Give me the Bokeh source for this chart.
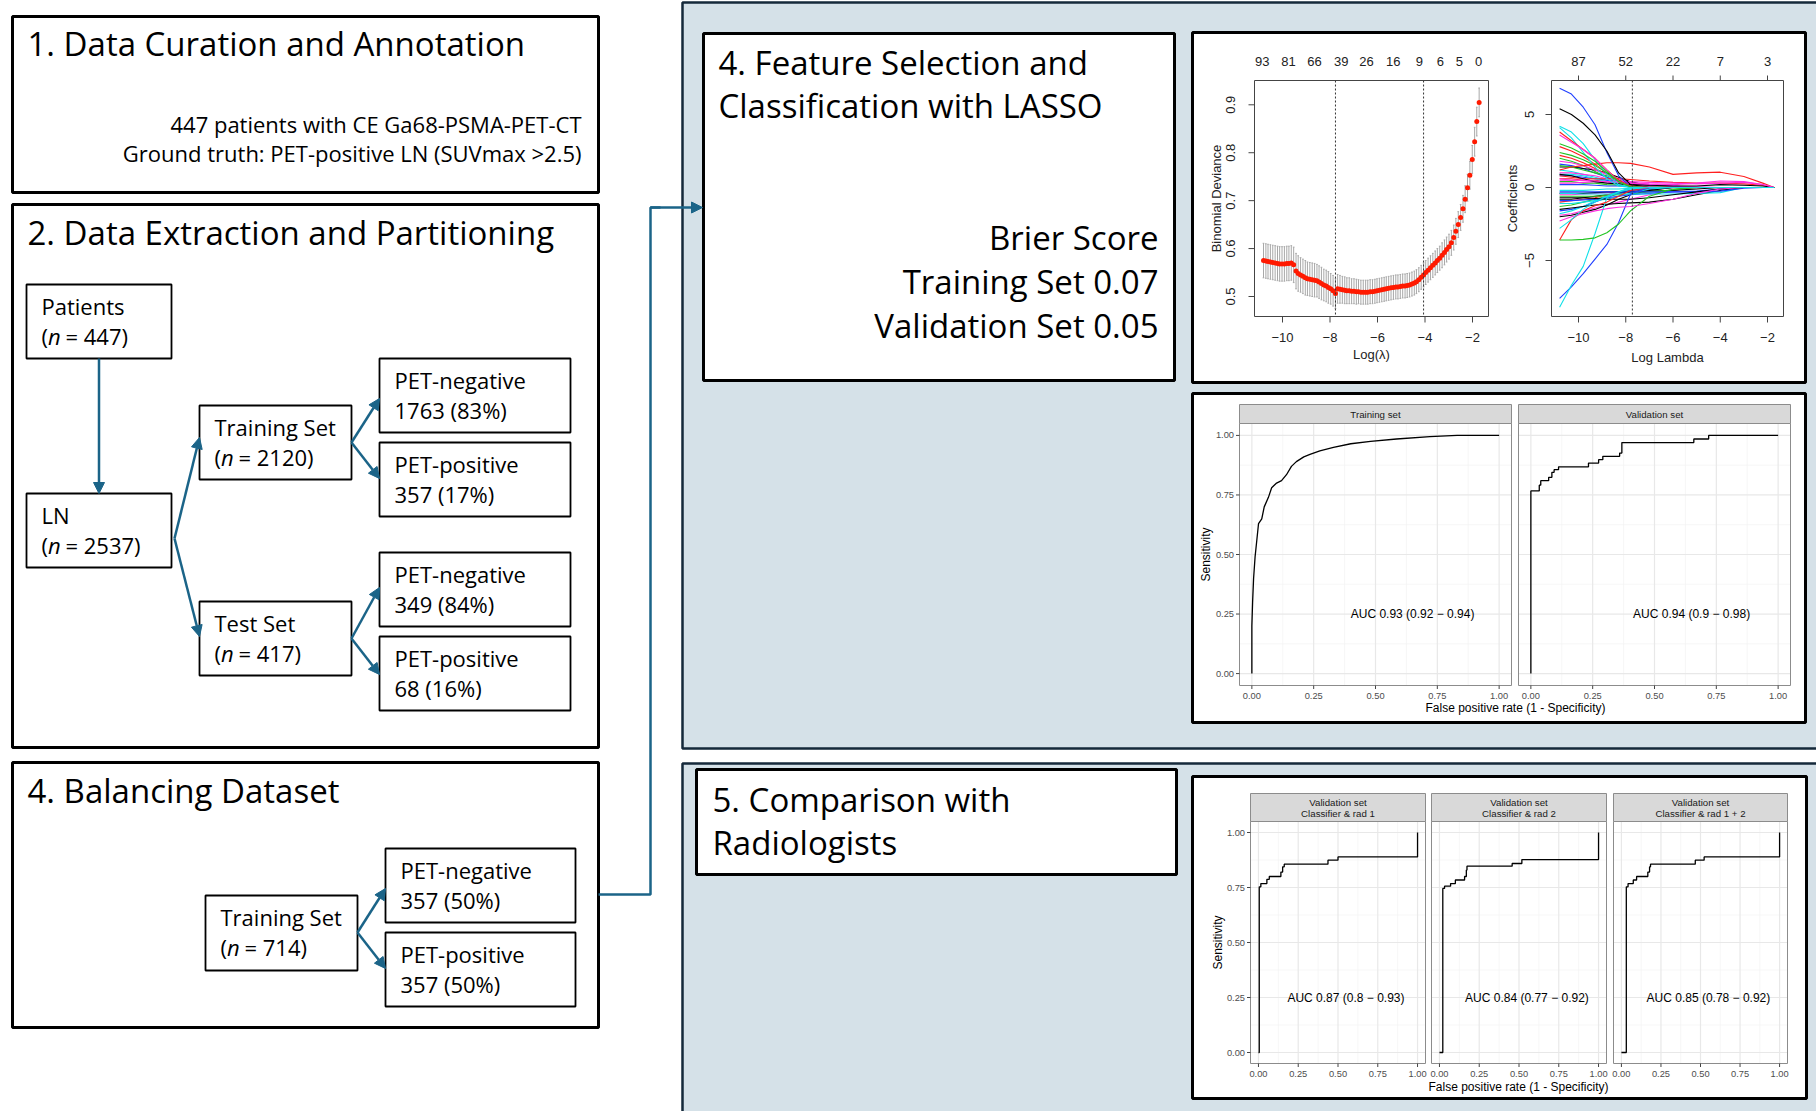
import math
from bokeh.plotting import figure
from bokeh.models import Range1d, Arrow, NormalHead
from bokeh.core.properties import value
from bokeh.embed import file_html
from bokeh.resources import INLINE

# ======================= DATA =======================
STEP1_TITLE = "1. Data Curation and Annotation"
STEP1_LINES = ["447 patients with CE Ga68-PSMA-PET-CT",
               "Ground truth: PET-positive LN (SUVmax >2.5)"]
STEP2_TITLE = "2. Data Extraction and Partitioning"
STEP3_TITLE = "4. Balancing Dataset"
STEP4_TITLE = ["4. Feature Selection and", "Classification with LASSO"]
STEP5_TITLE = ["5. Comparison with", "Radiologists"]

SPLIT_NAMES = ["Patients", "LN", "Training Set", "Test Set"]
SPLIT_N = ["447", "2537", "2120", "417"]
CLASS_NAMES = ["PET-negative", "PET-positive", "PET-negative", "PET-positive"]
CLASS_COUNTS = ["1763 (83%)", "357 (17%)", "349 (84%)", "68 (16%)"]
BAL_NAME = "Training Set"
BAL_N = "714"
BAL_CLASS_NAMES = ["PET-negative", "PET-positive"]
BAL_CLASS_COUNTS = ["357 (50%)", "357 (50%)"]

BRIER_TITLE = "Brier Score"
BRIER_SETS = ["Training Set", "Validation Set"]
BRIER_SCORES = ["0.07", "0.05"]

# --- LASSO cross-validation curve ---
CV_LOG_LAMBDA = [
    -10.80, -10.70, -10.61, -10.51, -10.41, -10.31, -10.21, -10.12, -10.02, -9.92,
    -9.82, -9.73, -9.63, -9.53, -9.43, -9.34, -9.24, -9.14, -9.04, -8.95,
    -8.85, -8.75, -8.65, -8.55, -8.46, -8.36, -8.26, -8.16, -8.07, -7.97,
    -7.87, -7.77, -7.68, -7.58, -7.48, -7.38, -7.29, -7.19, -7.09, -6.99,
    -6.89, -6.80, -6.70, -6.60, -6.50, -6.41, -6.31, -6.21, -6.11, -6.02,
    -5.92, -5.82, -5.72, -5.63, -5.53, -5.43, -5.33, -5.23, -5.14, -5.04,
    -4.94, -4.84, -4.75, -4.65, -4.55, -4.45, -4.36, -4.26, -4.16, -4.06,
    -3.97, -3.87, -3.77, -3.67, -3.57, -3.48, -3.38, -3.28, -3.18, -3.09,
    -2.99, -2.89, -2.79, -2.70, -2.60, -2.50, -2.40, -2.31, -2.21, -2.11,
    -2.01, -1.91, -1.82, -1.72]
CV_DEVIANCE = [
    0.575, 0.574, 0.573, 0.572, 0.571, 0.570, 0.569, 0.568, 0.568, 0.568,
    0.569, 0.569, 0.570, 0.566, 0.553, 0.548, 0.545, 0.542, 0.539, 0.537,
    0.536, 0.535, 0.534, 0.533, 0.530, 0.527, 0.524, 0.522, 0.519, 0.516,
    0.512, 0.506, 0.516, 0.515, 0.514, 0.513, 0.512, 0.512, 0.511, 0.511,
    0.510, 0.510, 0.509, 0.509, 0.509, 0.509, 0.510, 0.510, 0.511, 0.512,
    0.513, 0.514, 0.515, 0.516, 0.517, 0.518, 0.519, 0.520, 0.520, 0.521,
    0.522, 0.522, 0.523, 0.524, 0.526, 0.528, 0.531, 0.535, 0.540, 0.545,
    0.550, 0.555, 0.560, 0.565, 0.570, 0.575, 0.580, 0.586, 0.592, 0.598,
    0.604, 0.612, 0.623, 0.636, 0.650, 0.665, 0.683, 0.703, 0.727, 0.753,
    0.786, 0.823, 0.865, 0.905]
CV_SE = [
    0.036, 0.036, 0.036, 0.036, 0.036, 0.036, 0.036, 0.036, 0.036, 0.036,
    0.036, 0.036, 0.036, 0.037, 0.037, 0.037, 0.036, 0.036, 0.036, 0.035,
    0.035, 0.035, 0.035, 0.034, 0.034, 0.034, 0.033, 0.033, 0.033, 0.032,
    0.032, 0.031, 0.030, 0.029, 0.028, 0.028, 0.027, 0.027, 0.026, 0.026,
    0.026, 0.025, 0.025, 0.025, 0.025, 0.025, 0.025, 0.025, 0.025, 0.025,
    0.025, 0.025, 0.025, 0.025, 0.025, 0.025, 0.025, 0.025, 0.025, 0.025,
    0.025, 0.025, 0.025, 0.025, 0.025, 0.025, 0.025, 0.025, 0.025, 0.025,
    0.025, 0.025, 0.025, 0.025, 0.025, 0.025, 0.025, 0.026, 0.026, 0.026,
    0.026, 0.026, 0.026, 0.027, 0.027, 0.027, 0.028, 0.028, 0.028, 0.029,
    0.029, 0.030, 0.030, 0.030]
CV_LAMBDA_MIN = -7.77
CV_LAMBDA_1SE = -4.06
CV_XTICKS = [-10, -8, -6, -4, -2]
CV_YTICKS = [0.5, 0.6, 0.7, 0.8, 0.9]
CV_TOP_POS = [-10.85, -9.75, -8.65, -7.53, -6.46, -5.34, -4.24, -3.35, -2.55, -1.74]
CV_TOP_LABELS = ["93", "81", "66", "39", "26", "16", "9", "6", "5", "0"]

# --- LASSO coefficient paths ---
COEF_KNOTS = [-10.8, -10.3, -9.8, -9.3, -8.8, -8.3, -7.8, -7.0, -6.0, -5.0, -4.0, -3.0, -2.2, -1.72]
COEF_PATHS = [
    [2.8, 2.5, 2.1, 1.6, 1.0, 0.5, 0.15, 0, 0, 0, 0, 0, 0, 0],
    [2.0, 1.8, 1.5, 1.1, 0.7, 0.35, 0.1, 0, 0, 0, 0, 0, 0, 0],
    [1.6, 1.5, 1.3, 1.0, 0.7, 0.4, 0.2, 0.05, 0, 0, 0, 0, 0, 0],
    [1.2, 1.1, 0.9, 0.7, 0.5, 0.3, 0.1, 0, 0, 0, 0, 0, 0, 0],
    [1.0, 1.0, 0.9, 0.8, 0.6, 0.4, 0.25, 0.1, 0, 0, 0, 0, 0, 0],
    [1.4, 1.4, 1.3, 1.2, 1.0, 0.7, 0.4, 0.1, 0, 0, 0, 0, 0, 0],
    [0.6, 0.6, 0.5, 0.5, 0.4, 0.3, 0.2, 0.1, 0.05, 0, 0, 0, 0, 0],
    [0.4, 0.4, 0.3, 0.3, 0.2, 0.15, 0.1, 0.05, 0, 0, 0, 0, 0, 0],
    [0.2, 0.2, 0.2, 0.15, 0.1, 0.1, 0.05, 0, 0, 0, 0, 0, 0, 0],
    [-0.2, -0.2, -0.2, -0.15, -0.1, -0.1, -0.05, 0, 0, 0, 0, 0, 0, 0],
    [-0.5, -0.5, -0.45, -0.4, -0.35, -0.3, -0.2, -0.1, 0, 0, 0, 0, 0, 0],
    [-0.8, -0.8, -0.7, -0.6, -0.5, -0.4, -0.3, -0.15, 0, 0, 0, 0, 0, 0],
    [-1.0, -0.9, -0.8, -0.7, -0.5, -0.35, -0.2, 0, 0, 0, 0, 0, 0, 0],
    [-1.3, -1.2, -1.0, -0.8, -0.6, -0.4, -0.2, 0, 0, 0, 0, 0, 0, 0],
    [-1.6, -1.5, -1.3, -1.0, -0.7, -0.4, -0.2, -0.05, 0, 0, 0, 0, 0, 0],
    [-1.8, -1.6, -1.3, -0.9, -0.6, -0.3, -0.1, 0, 0, 0, 0, 0, 0, 0],
    [-1.9, -1.8, -1.6, -1.4, -1.2, -1.0, -0.8, -0.5, -0.2, 0, 0, 0, 0, 0],
    [-2.0, -1.9, -1.7, -1.5, -1.2, -0.8, -0.5, -0.2, 0, 0, 0, 0, 0, 0],
    [2.2, 2.0, 1.7, 1.3, 0.9, 0.5, 0.2, 0, 0, 0, 0, 0, 0, 0],
    [1.5, 1.4, 1.2, 1.0, 0.8, 0.5, 0.3, 0.1, 0, 0, 0, 0, 0, 0],
    [0.8, 0.8, 0.7, 0.6, 0.5, 0.4, 0.3, 0.2, 0.1, 0, 0, 0, 0, 0],
    [0.9, 0.9, 0.8, 0.6, 0.4, 0.2, 0.05, 0, 0, 0, 0, 0, 0, 0],
    [0.5, 0.5, 0.5, 0.4, 0.4, 0.3, 0.3, 0.2, 0.1, 0.05, 0, 0, 0, 0],
    [-0.4, -0.4, -0.4, -0.35, -0.3, -0.3, -0.3, -0.25, -0.2, -0.1, 0, 0, 0, 0],
    [-0.6, -0.6, -0.6, -0.6, -0.55, -0.5, -0.45, -0.3, -0.15, 0, 0, 0, 0, 0],
    [1.8, 1.7, 1.5, 1.2, 0.9, 0.6, 0.3, 0.05, 0, 0, 0, 0, 0, 0],
    [-1.1, -1.1, -1.0, -0.9, -0.8, -0.6, -0.4, -0.1, 0, 0, 0, 0, 0, 0],
    [-0.9, -0.9, -0.85, -0.8, -0.7, -0.6, -0.5, -0.4, -0.3, -0.25, -0.1, 0, 0, 0],
    [1.2, 1.4, 1.5, 1.6, 1.7, 1.7, 1.65, 1.4, 0.9, 1.0, 1.05, 0.75, 0.3, 0],
    [0.8, 0.7, 0.6, 0.6, 0.6, 0.6, 0.55, 0.45, 0.35, 0.3, 0.3, 0.25, 0.15, 0],
    [0.3, 0.3, 0.35, 0.4, 0.4, 0.4, 0.4, 0.35, 0.3, 0.25, 0.3, 0.35, 0.2, 0],
    [0.9, 0.8, 0.6, 0.4, 0.3, 0.25, 0.2, 0.15, 0.1, 0.1, 0.2, 0.15, 0.1, 0],
    [-1.5, -1.4, -1.3, -1.2, -1.15, -1.1, -1.05, -1.0, -0.8, -0.5, -0.2, 0, 0, 0],
    [-0.4, -0.4, -0.45, -0.45, -0.45, -0.45, -0.45, -0.45, -0.45, -0.4, -0.35, 0, 0, 0],
    [-0.3, -0.3, -0.3, -0.3, -0.3, -0.3, -0.3, -0.3, -0.3, -0.3, -0.25, -0.05, 0, 0],
    [0.6, 0.5, 0.5, 0.45, 0.4, 0.35, 0.3, 0.25, 0.2, 0.3, 0.45, 0.4, 0.2, 0],
    [-0.7, -0.7, -0.7, -0.75, -0.8, -0.8, -0.8, -0.7, -0.5, -0.3, -0.1, 0, 0, 0],
    [6.8, 6.4, 5.5, 4.3, 2.4, 0.8, 0.05, 0, 0, 0, 0, 0, 0, 0],
    [5.4, 5.0, 4.4, 3.6, 2.5, 1.0, 0.2, 0, 0, 0, 0, 0, 0, 0],
    [4.2, 3.8, 3.0, 1.9, 0.9, 0.2, 0, 0, 0, 0, 0, 0, 0, 0],
    [4.1, 3.4, 2.4, 1.4, 0.6, 0.1, 0, 0, 0, 0, 0, 0, 0, 0],
    [3.8, 3.2, 2.6, 2.0, 1.2, 0.5, 0.1, 0, 0, 0, 0, 0, 0, 0],
    [3.6, 3.1, 2.6, 2.0, 1.2, 0.4, 0.05, 0, 0, 0, 0, 0, 0, 0],
    [3.0, 2.7, 2.3, 1.8, 1.1, 0.4, 0.05, 0, 0, 0, 0, 0, 0, 0],
    [2.4, 2.2, 1.9, 1.5, 1.0, 0.4, 0.05, 0, 0, 0, 0, 0, 0, 0],
    [-7.6, -6.8, -5.9, -4.9, -3.9, -2.4, -0.45, 0, 0, 0, 0, 0, 0, 0],
    [-8.2, -6.7, -5.4, -3.15, -0.7, -0.3, 0, 0, 0, 0, 0, 0, 0, 0],
    [-3.6, -3.6, -3.55, -3.45, -3.1, -2.5, -1.6, -0.6, -0.1, 0, 0, 0, 0, 0],
    [-3.6, -2.2, -1.6, -1.25, -1.0, -0.6, -0.2, 0, 0, 0, 0, 0, 0, 0],
    [-2.3, -2.0, -1.8, -1.6, -1.45, -1.35, -1.3, -1.1, -0.8, -0.4, -0.1, 0, 0, 0],
    [-2.8, -2.2, -1.5, -1.0, -0.6, -0.3, -0.1, 0, 0, 0, 0, 0, 0, 0],
]
COEF_COLOR_KEYS = ["r", "g", "b", "c", "m", "k", "r", "g", "b", "c", "m", "k", "r", "g",
                   "b", "c", "m", "k", "r", "g", "b", "c", "m", "k", "g", "m", "c", "b",
                   "r", "r", "m", "k", "k", "c", "b", "m", "k",
                   "b", "k", "c", "c", "r", "m", "g", "g",
                   "b", "c", "g", "r", "m", "c"]
COEF_VLINE = -7.72
COEF_XTICKS = [-10, -8, -6, -4, -2]
COEF_YTICKS = [-5, 0, 5]
COEF_TOP_POS = [-10, -8, -6, -4, -2]
COEF_TOP_LABELS = ["87", "52", "22", "7", "3"]

# --- ROC curves ---
GG_TICKS = [0.0, 0.25, 0.5, 0.75, 1.0]
GG_TICK_LABELS = ["0.00", "0.25", "0.50", "0.75", "1.00"]
GG_MINOR = [0.125, 0.375, 0.625, 0.875]

TRAIN_FPR = [0, 0.0, 0.003, 0.007, 0.013, 0.02, 0.027, 0.04, 0.05, 0.067, 0.08, 0.1, 0.12,
             0.14, 0.16, 0.18, 0.21, 0.235, 0.275, 0.33, 0.40, 0.48, 0.585, 0.72, 0.83, 1.0]
TRAIN_TPR = [0, 0.2, 0.3, 0.40, 0.49, 0.56, 0.63, 0.65, 0.70, 0.74, 0.78, 0.80, 0.81,
             0.835, 0.87, 0.89, 0.91, 0.92, 0.935, 0.95, 0.965, 0.975, 0.985, 0.995, 1.0, 1.0]
VAL_FPR = [0, 0, 0.034, 0.04, 0.072, 0.085, 0.094, 0.112, 0.233, 0.274, 0.291, 0.359, 0.368, 0.659, 0.719, 1.0]
VAL_TPR = [0, 0.767, 0.791, 0.81, 0.824, 0.845, 0.856, 0.868, 0.884, 0.898, 0.912, 0.926, 0.97, 0.985, 1.0, 1.0]
RAD1_FPR = [0, 0.005, 0.015, 0.053, 0.068, 0.141, 0.152, 0.162, 0.437, 0.5, 1.0]
RAD1_TPR = [0, 0.753, 0.768, 0.787, 0.80, 0.82, 0.844, 0.856, 0.874, 0.889, 1.0]
RAD2_FPR = [0, 0.021, 0.032, 0.07, 0.1, 0.158, 0.169, 0.173, 0.457, 0.518, 1.0]
RAD2_TPR = [0, 0.746, 0.756, 0.768, 0.784, 0.80, 0.829, 0.847, 0.859, 0.877, 1.0]
RAD12_FPR = [0, 0.031, 0.042, 0.075, 0.096, 0.167, 0.178, 0.184, 0.467, 0.523, 1.0]
RAD12_TPR = [0, 0.753, 0.768, 0.784, 0.80, 0.82, 0.844, 0.856, 0.874, 0.889, 1.0]
AUC_TEXT = ["AUC 0.93 (0.92 \u2212 0.94)", "AUC 0.94 (0.9 \u2212 0.98)",
            "AUC 0.87 (0.8 \u2212 0.93)", "AUC 0.84 (0.77 \u2212 0.92)", "AUC 0.85 (0.78 \u2212 0.92)"]
STRIPS_TOP = ["Training set", "Validation set"]
STRIPS_BOTTOM = [["Validation set", "Classifier & rad 1"],
                 ["Validation set", "Classifier & rad 2"],
                 ["Validation set", "Classifier & rad 1 + 2"]]

# ======================= STYLE / CANVAS =======================
SANS = "Open Sans"
RF = "Liberation Sans"
AC = "#1b6488"
PANEL_FILL = "#d5e1e8"
PANEL_EDGE = "#15293a"
COLMAP = {"k": "#000000", "r": "#ff2020", "g": "#22c422", "b": "#2040ff", "c": "#10e0e8", "m": "#ff30e0"}

FX0, FY0, W, H = 0, 0, 1816, 1111
FX1, FY1 = FX0 + W, FY0 + H

p = figure(width=W, height=H, x_range=Range1d(FX0, FX1), y_range=Range1d(FY1, FY0),
           output_backend="svg", toolbar_location=None, min_border=0,
           x_axis_type=None, y_axis_type=None)
p.xgrid.visible = False
p.ygrid.visible = False
p.outline_line_color = None

XR, YR = {}, {}


def add_sub(name, px_a, px_b, d_a, d_b, py_a, py_b, e_a, e_b):
    sx = (px_b - px_a) / (d_b - d_a)
    XR[name] = Range1d(d_a + (FX0 - px_a) / sx, d_a + (FX1 - px_a) / sx)
    sy = (py_a - py_b) / (e_b - e_a)
    YR[name] = Range1d(e_a - (FY1 - py_a) / sy, e_a + (py_a - FY0) / sy)


def T(x, y, s, size, font=SANS, align="left", base="middle", style="normal",
      color="black", angle=0.0, xr="default", yr="default"):
    xs = x if isinstance(x, list) else [x]
    ys = y if isinstance(y, list) else [y]
    ss = s if isinstance(s, list) else [s]
    n = max(len(xs), len(ys), len(ss))
    xs = xs * n if len(xs) == 1 else xs
    ys = ys * n if len(ys) == 1 else ys
    p.text(x=xs, y=ys, text=ss, text_font=value(font), text_font_size=f"{size}px",
           text_align=align, text_baseline=base, text_font_style=style, text_color=color,
           angle=angle, x_range_name=xr, y_range_name=yr)


def box(l, t, r, b, lw=3, fill="white", line="black"):
    p.quad(left=[l], right=[r], top=[t], bottom=[b], fill_color=fill, line_color=line, line_width=lw)


def arrow(x0, y0, x1, y1):
    p.add_layout(Arrow(end=NormalHead(size=11, fill_color=AC, line_color=AC, line_width=1),
                       x_start=x0, y_start=y0, x_end=x1, y_end=y1, line_color=AC, line_width=2.5))


def node(l, t, r, b, line1, n=None, line2=None, size=22):
    box(l, t, r, b, lw=1.8)
    T(l + 15, t + 21, line1, size)
    if n is not None:
        x = l + 15
        T(x, t + 51, "(", size)
        T(x + 6.5, t + 51, "n", size, style="italic")
        T(x + 24, t + 51, "= " + n + ")", size)
    else:
        T(l + 15, t + 51, line2, size)


TS = 33  # title font size

# ======================= BACKGROUND PANELS =======================
box(682, 2, 1840, 748, lw=2.5, fill=PANEL_FILL, line=PANEL_EDGE)
box(682, 763, 1840, 1135, lw=2.5, fill=PANEL_FILL, line=PANEL_EDGE)

# ======================= LEFT COLUMN =======================
box(12, 16, 598, 192)
T(27, 43, STEP1_TITLE, TS)
T(581, 123, STEP1_LINES[0], 22, align="right")
T(581, 152, STEP1_LINES[1], 22, align="right")

box(12, 204, 598, 747)
T(27, 232, STEP2_TITLE, TS)
SPLIT_BOX = [(26, 284, 171, 358), (26, 493, 171, 567), (199, 405, 351, 479), (199, 601, 351, 675)]
CLASS_BOX = [(379, 358, 570, 432), (379, 442, 570, 516), (379, 552, 570, 626), (379, 636, 570, 710)]
for (l, t, r, b), nm, nn in zip(SPLIT_BOX, SPLIT_NAMES, SPLIT_N):
    node(l, t, r, b, nm, n=nn)
for (l, t, r, b), nm, cnt in zip(CLASS_BOX, CLASS_NAMES, CLASS_COUNTS):
    node(l, t, r, b, nm, line2=cnt)
arrow(98.5, 358, 98.5, 493)
arrow(174, 538, 199, 437)
arrow(174, 538, 199, 636)
arrow(351, 442, 379, 398)
arrow(351, 442, 379, 478)
arrow(351, 638, 379, 587)
arrow(351, 638, 379, 674)

box(12, 762, 598, 1027)
T(27, 790, STEP3_TITLE, TS)
node(205, 895, 357, 970, BAL_NAME, n=BAL_N)
BAL_CLASS_BOX = [(385, 848, 575, 922), (385, 932, 575, 1006)]
for (l, t, r, b), nm, cnt in zip(BAL_CLASS_BOX, BAL_CLASS_NAMES, BAL_CLASS_COUNTS):
    node(l, t, r, b, nm, line2=cnt)
arrow(357, 932, 385, 888)
arrow(357, 932, 385, 968)

# connector to step 4
p.line(x=[598, 650, 650, 660], y=[894, 894, 207, 207], line_color=AC, line_width=2.5)
arrow(650, 207, 702, 207)

# ======================= STEP 4 TEXT BOX =======================
box(703, 33, 1174, 380)
T(718, 62, STEP4_TITLE[0], TS)
T(718, 105, STEP4_TITLE[1], TS)
T(1158, 237, BRIER_TITLE, TS, align="right")
T(1158, 281, BRIER_SETS[0] + " " + BRIER_SCORES[0], TS, align="right")
T(1158, 325, BRIER_SETS[1] + " " + BRIER_SCORES[1], TS, align="right")

# ======================= STEP 5 TEXT BOX =======================
box(696, 769, 1176, 874)
T(712, 799, STEP5_TITLE[0], TS)
T(712, 842, STEP5_TITLE[1], TS)

# ======================= LASSO BOX =======================
box(1192, 32, 1805, 382)
RC = "#222222"
# --- CV plot ---
add_sub("cv", 1282, 1472, -10, -2, 296, 104.3, 0.5, 0.9)
lo = [d - s for d, s in zip(CV_DEVIANCE, CV_SE)]
hi = [d + s for d, s in zip(CV_DEVIANCE, CV_SE)]
p.segment(x0=CV_LOG_LAMBDA, y0=lo, x1=CV_LOG_LAMBDA, y1=hi, line_color="#a8a8a8", line_width=1,
          x_range_name="cv", y_range_name="cv")
cl = [x - 0.035 for x in CV_LOG_LAMBDA]
cr = [x + 0.035 for x in CV_LOG_LAMBDA]
p.segment(x0=cl, y0=hi, x1=cr, y1=hi, line_color="#a8a8a8", line_width=1, x_range_name="cv", y_range_name="cv")
p.segment(x0=cl, y0=lo, x1=cr, y1=lo, line_color="#a8a8a8", line_width=1, x_range_name="cv", y_range_name="cv")
p.scatter(x=CV_LOG_LAMBDA, y=CV_DEVIANCE, size=5, fill_color="#ff1a00", line_color=None,
          x_range_name="cv", y_range_name="cv")
p.segment(x0=[CV_LAMBDA_MIN, CV_LAMBDA_1SE], y0=[80, 80], x1=[CV_LAMBDA_MIN, CV_LAMBDA_1SE], y1=[316, 316],
          line_color="#333333", line_width=1, line_dash="2 2", x_range_name="cv")
box(1254, 80, 1488, 316, lw=1, fill=None, line="#444444")
p.segment(x0=CV_XTICKS, y0=[316] * 5, x1=CV_XTICKS, y1=[322] * 5, line_color="#444444", x_range_name="cv")
T(CV_XTICKS, 337, ["\u221210", "\u22128", "\u22126", "\u22124", "\u22122"], 13, font=RF, align="center",
  color=RC, xr="cv")
p.segment(x0=[1254] * 5, y0=CV_YTICKS, x1=[1248] * 5, y1=CV_YTICKS, line_color="#444444", y_range_name="cv")
T(1230, CV_YTICKS, [f"{v:.1f}" for v in CV_YTICKS], 13, font=RF, align="center",
  color=RC, angle=math.pi / 2, yr="cv")
T(CV_TOP_POS, 61, CV_TOP_LABELS, 13, font=RF, align="center", color=RC, xr="cv")
T(1216, 198, "Binomial Deviance", 13, font=RF, align="center", color=RC, angle=math.pi / 2)
T(1371, 354, "Log(\u03bb)", 13, font=RF, align="center", color=RC)

# --- coefficient path plot ---
add_sub("coef", 1578, 1767, -10, -2, 260, 114, -5, 5)
p.multi_line(xs=[COEF_KNOTS] * len(COEF_PATHS), ys=COEF_PATHS,
             line_color=[COLMAP[k] for k in COEF_COLOR_KEYS], line_width=1.1,
             x_range_name="coef", y_range_name="coef")
p.segment(x0=[COEF_VLINE], y0=[80], x1=[COEF_VLINE], y1=[316], line_color="#333333", line_width=1,
          line_dash="2 2", x_range_name="coef")
box(1551, 80, 1783, 316, lw=1, fill=None, line="#444444")
p.segment(x0=COEF_XTICKS, y0=[316] * 5, x1=COEF_XTICKS, y1=[322] * 5, line_color="#444444", x_range_name="coef")
T(COEF_XTICKS, 337, ["\u221210", "\u22128", "\u22126", "\u22124", "\u22122"], 13, font=RF, align="center",
  color=RC, xr="coef")
p.segment(x0=COEF_TOP_POS, y0=[80] * 5, x1=COEF_TOP_POS, y1=[75] * 5, line_color="#444444", x_range_name="coef")
T(COEF_TOP_POS, 61, COEF_TOP_LABELS, 13, font=RF, align="center", color=RC, xr="coef")
p.segment(x0=[1551] * 3, y0=COEF_YTICKS, x1=[1545] * 3, y1=COEF_YTICKS, line_color="#444444", y_range_name="coef")
T(1529, COEF_YTICKS, ["\u22125", "0", "5"], 13, font=RF, align="center", color=RC,
  angle=math.pi / 2, yr="coef")
T(1512, 198, "Coefficients", 13, font=RF, align="center", color=RC, angle=math.pi / 2)
T(1667, 357, "Log Lambda", 13, font=RF, align="center", color=RC)


# ======================= ROC PANELS =======================
def gg_panel(name, l, t, r, b, strip_top, strip_lines, fpr, tpr, steps, auc, auc_x, ylab):
    add_sub(name, l, r, -0.05, 1.05, b, t, -0.05, 1.05)
    p.quad(left=[l], right=[r], top=[t], bottom=[b], fill_color="white", line_color=None)
    k = dict(x_range_name=name, y_range_name=name)
    p.segment(x0=GG_MINOR, y0=[-0.05] * 4, x1=GG_MINOR, y1=[1.05] * 4, line_color="#f4f4f4", line_width=0.7, **k)
    p.segment(x0=[-0.05] * 4, y0=GG_MINOR, x1=[1.05] * 4, y1=GG_MINOR, line_color="#f4f4f4", line_width=0.7, **k)
    p.segment(x0=GG_TICKS, y0=[-0.05] * 5, x1=GG_TICKS, y1=[1.05] * 5, line_color="#e8e8e8", line_width=1.2, **k)
    p.segment(x0=[-0.05] * 5, y0=GG_TICKS, x1=[1.05] * 5, y1=GG_TICKS, line_color="#e8e8e8", line_width=1.2, **k)
    if steps:
        p.step(x=fpr, y=tpr, mode="after", line_color="black", line_width=1.3, **k)
    else:
        p.line(x=fpr, y=tpr, line_color="black", line_width=1.3, **k)
    T(auc_x, 0.25, auc, 12, font=RF, align="center", color="black", xr=name, yr=name)
    p.quad(left=[l], right=[r], top=[t], bottom=[b], fill_color=None, line_color="#8c8c8c", line_width=1)
    p.quad(left=[l], right=[r], top=[strip_top], bottom=[t], fill_color="#d9d9d9", line_color="#8c8c8c",
           line_width=1)
    nl = len(strip_lines)
    mid = (strip_top + t) / 2
    for i, s in enumerate(strip_lines):
        yc = mid + (i - (nl - 1) / 2) * 11
        T((l + r) / 2, yc, s, 9.7, font=RF, align="center", color="#1a1a1a")
    p.segment(x0=GG_TICKS, y0=[b] * 5, x1=GG_TICKS, y1=[b + 3.5] * 5, line_color="#444444", line_width=1,
              x_range_name=name)
    T(GG_TICKS, b + 10, GG_TICK_LABELS, 9.3, font=RF, align="center", color="#4d4d4d", xr=name)
    if ylab:
        p.segment(x0=[l] * 5, y0=GG_TICKS, x1=[l - 3.5] * 5, y1=GG_TICKS, line_color="#444444", line_width=1,
                  y_range_name=name)
        T(l - 5.5, GG_TICKS, GG_TICK_LABELS, 9.3, font=RF, align="right", color="#4d4d4d", yr=name)


box(1192, 393, 1805, 722)
gg_panel("rt1", 1239, 423, 1511, 685, 404, [STRIPS_TOP[0]], TRAIN_FPR, TRAIN_TPR, False, AUC_TEXT[0], 0.65, True)
gg_panel("rt2", 1518, 423, 1790, 685, 404, [STRIPS_TOP[1]], VAL_FPR, VAL_TPR, True, AUC_TEXT[1], 0.65, False)
T(1205, 554, "Sensitivity", 12, font=RF, align="center", angle=math.pi / 2)
T(1515, 707, "False positive rate (1 - Specificity)", 12, font=RF, align="center")

box(1192, 776, 1806, 1098)
gg_panel("rb1", 1250, 821, 1425, 1063, 793, STRIPS_BOTTOM[0], RAD1_FPR, RAD1_TPR, True, AUC_TEXT[2], 0.55, True)
gg_panel("rb2", 1431, 821, 1606, 1063, 793, STRIPS_BOTTOM[1], RAD2_FPR, RAD2_TPR, True, AUC_TEXT[3], 0.55, False)
gg_panel("rb3", 1613, 821, 1787, 1063, 793, STRIPS_BOTTOM[2], RAD12_FPR, RAD12_TPR, True, AUC_TEXT[4], 0.55, False)
T(1217, 942, "Sensitivity", 12, font=RF, align="center", angle=math.pi / 2)
T(1518, 1086, "False positive rate (1 - Specificity)", 12, font=RF, align="center")

p.extra_x_ranges = XR
p.extra_y_ranges = YR

open("out.html", "w").write(file_html(p, INLINE))
